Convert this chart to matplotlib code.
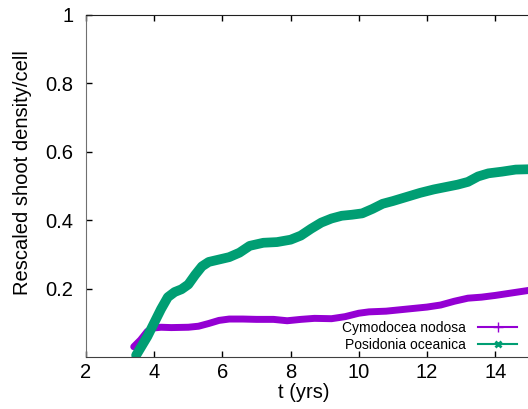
import matplotlib
matplotlib.use("Agg")
import matplotlib.pyplot as plt
from matplotlib.lines import Line2D

# Data
t_cymo = [3.4, 3.6, 3.8, 4.0, 4.2, 4.5, 5.0, 5.3, 5.6, 5.9, 6.2, 6.6, 7.0, 7.5, 7.9, 8.3, 8.7, 9.2, 9.6, 10.0, 10.3, 10.8, 11.2, 11.6, 12.0, 12.4, 12.8, 13.2, 13.6, 14.0, 14.4, 14.8, 15.2]
y_cymo = [0.030, 0.050, 0.075, 0.085, 0.087, 0.086, 0.087, 0.090, 0.098, 0.107, 0.111, 0.111, 0.110, 0.110, 0.106, 0.110, 0.113, 0.112, 0.118, 0.128, 0.132, 0.134, 0.138, 0.142, 0.146, 0.152, 0.163, 0.172, 0.175, 0.180, 0.186, 0.192, 0.198]

t_posi = [3.47, 3.65, 3.8, 4.0, 4.2, 4.4, 4.6, 4.8, 5.0, 5.2, 5.4, 5.6, 5.9, 6.2, 6.5, 6.8, 7.2, 7.6, 8.0, 8.3, 8.6, 8.9, 9.2, 9.5, 9.8, 10.1, 10.4, 10.7, 11.0, 11.4, 11.8, 12.2, 12.6, 12.9, 13.2, 13.5, 13.8, 14.2, 14.6, 15.0, 15.2]
y_posi = [0.005, 0.035, 0.060, 0.100, 0.140, 0.175, 0.190, 0.198, 0.212, 0.240, 0.265, 0.278, 0.285, 0.292, 0.305, 0.325, 0.334, 0.336, 0.343, 0.355, 0.375, 0.393, 0.405, 0.413, 0.416, 0.420, 0.433, 0.448, 0.456, 0.468, 0.480, 0.490, 0.498, 0.504, 0.512, 0.528, 0.537, 0.542, 0.548, 0.549, 0.549]

labels = ["Cymodocea nodosa", "Posidonia oceanica"]
colors = ["#9400D3", "#009E73"]
x_ticks = [2, 4, 6, 8, 10, 12, 14]
y_ticks = [0.2, 0.4, 0.6, 0.8, 1.0]
y_ticklabels = ["0.2", "0.4", "0.6", "0.8", "1"]

plt.rcParams['font.family'] = ['Liberation Sans', 'DejaVu Sans']

W, H = 528, 409
fig = plt.figure(figsize=(W / 100, H / 100), dpi=100)
px_per_unit = 34.1
x0, x1 = 2, 16
ax_w_px = (x1 - x0) * px_per_unit
ax = fig.add_axes([86 / W, 1 - 357 / H, ax_w_px / W, 342 / H])

ax.plot(t_cymo, y_cymo, color=colors[0], lw=5.0, solid_capstyle='round', label=labels[0])
ax.plot(t_posi, y_posi, color=colors[1], lw=7.0, solid_capstyle='round', label=labels[1])

ax.set_xlim(x0, x1)
ax.set_ylim(0, 1)
ax.set_xticks(x_ticks)
ax.set_yticks(y_ticks)
ax.set_yticklabels(y_ticklabels)
ax.tick_params(direction='in', length=4, width=1, labelsize=14.5, top=True, right=False)
ax.tick_params(axis='y', pad=9)
ax.tick_params(axis='x', pad=4)
ax.spines['left'].set_color('#707070')
ax.spines['bottom'].set_color('#404040')
ax.spines['top'].set_color('#202020')
ax.spines['right'].set_visible(False)
ax.set_xlabel("t (yrs)", fontsize=14.5)
ax.set_ylabel("Rescaled shoot density/cell", fontsize=14.5)
ax.xaxis.set_label_coords((304 - 86) / ax_w_px, -(392 - 357) / 342, transform=ax.transAxes)
ax.yaxis.set_label_coords(-(86 - 23) / ax_w_px, (357 - 173) / 342, transform=ax.transAxes)
ax.xaxis.label.set_va('center')
ax.yaxis.label.set_va('center')

h1 = Line2D([], [], color=colors[0], lw=1.5, marker='+', markersize=7)
h2 = Line2D([], [], color=colors[1], lw=1.5, marker='x', markersize=5, markeredgewidth=2)
fig.legend([h1, h2], labels, loc='lower right', bbox_to_anchor=(517 / W, 1 - 352 / H),
           frameon=False, markerfirst=False, fontsize=10, handlelength=2.8,
           handletextpad=0.9, labelspacing=0.2, borderaxespad=0, borderpad=0)

fig.savefig("out.png", dpi=100)
